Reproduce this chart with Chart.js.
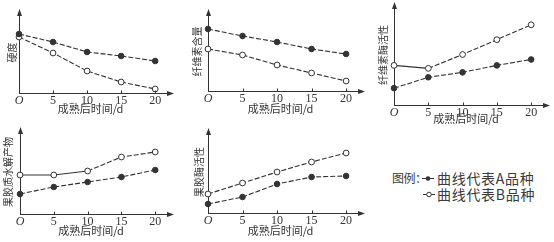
<!DOCTYPE html>
<html>
<head>
<meta charset="utf-8">
<script src="https://cdn.jsdelivr.net/npm/chart.js@4/dist/chart.umd.min.js"></script>
<style>
  body { margin: 0; background: #fff; width: 554px; height: 242px; position: relative; overflow: hidden;
         font-family: "Noto Sans CJK SC", sans-serif; color: #3a3a3a; }
  .box { position: absolute; }
  .lg { position: absolute; font-size: 14px; line-height: 16px; letter-spacing: 0.7px; white-space: nowrap; }
  .lg.head { font-size: 12px; letter-spacing: -0.5px; }
  .sym { position: absolute; width: 12px; height: 16px; }
</style>
</head>
<body>
<div class="box" style="left:0;top:0;width:180px;height:115px"><canvas id="c1"></canvas></div>
<div class="box" style="left:185px;top:0;width:180px;height:115px"><canvas id="c2"></canvas></div>
<div class="box" style="left:370px;top:0;width:184px;height:125px"><canvas id="c3"></canvas></div>
<div class="box" style="left:0;top:120px;width:180px;height:117px"><canvas id="c4"></canvas></div>
<div class="box" style="left:185px;top:120px;width:180px;height:117px"><canvas id="c5"></canvas></div>

<div class="lg head" style="left:392px;top:170px">图例：</div>
<svg class="sym" style="left:422px;top:170px"><line x1="0" y1="8.5" x2="12" y2="8.5" stroke="#333"/><circle cx="6" cy="8.5" r="2.3" fill="#333"/></svg>
<div class="lg" style="left:437px;top:170px">曲线代表A品种</div>
<svg class="sym" style="left:423px;top:186px"><line x1="0" y1="8.5" x2="12" y2="8.5" stroke="#333"/><circle cx="6" cy="8.5" r="2.3" fill="#fff" stroke="#333"/></svg>
<div class="lg" style="left:437px;top:186px">曲线代表B品种</div>

<script>
// data (relative units, no y ticks in the original)
var days = [0, 5, 10, 15, 20];
var xTitle = '成熟后时间/d';

var hardnessA = [59, 51, 41, 37, 32];
var hardnessB = [56, 40, 22, 11, 4];

var celluloseA = [62, 55, 49, 42, 37];
var celluloseB = [42, 36, 26, 18, 10];

var cellulaseA = [17, 28, 33, 40, 46];
var cellulaseB = [40, 37, 51, 66, 81];

var pectinProdA = [20, 27, 32, 37, 44];
var pectinProdB = [39, 39, 43, 57, 62];

var pectinaseA = [9, 16, 29, 36, 37];
var pectinaseB = [19, 30, 41, 51, 60];

var ink = '#333';

var panels = [
    { id: 'c1', yTitle: '硬度', a: hardnessA, b: hardnessB, yMax: 81, axisW: 19, axisH: 22, padTop: 12, padRight: 18, titleOff: 12, solidB: [] },
    { id: 'c2', yTitle: '纤维素含量', a: celluloseA, b: celluloseB, yMax: 79, axisW: 23, axisH: 24, padTop: 12, padRight: 12, titleOff: 12, solidB: [] },
    { id: 'c3', yTitle: '纤维素酶活性', a: cellulaseA, b: cellulaseB, yMax: 101, axisW: 24, axisH: 20, padTop: 4, padRight: 16, titleOff: 13, solidB: [0] },
    { id: 'c4', yTitle: '果胶质水解产物', a: pectinProdA, b: pectinProdB, yMax: 84, axisW: 20, axisH: 23, padTop: 10, padRight: 18, titleOff: 8, solidB: [0, 1] },
    { id: 'c5', yTitle: '果胶酶活性', a: pectinaseA, b: pectinaseB, yMax: 82, axisW: 23, axisH: 24, padTop: 11, padRight: 12, titleOff: 14, solidB: [] }
];

// arrowheads on both axes and the little ticks on the x axis
var axisArrows = {
    id: 'axisArrows',
    afterDraw: function(chart) {
        var ctx = chart.ctx, a = chart.chartArea, xs = chart.scales.x;
        var yb = Math.round(a.bottom) + 0.5, xl = Math.round(a.left) + 0.5;
        ctx.save();
        ctx.strokeStyle = ink;
        ctx.fillStyle = ink;
        ctx.lineWidth = 1;
        ctx.beginPath();
        ctx.moveTo(a.right, yb);
        ctx.lineTo(a.right + 8, yb);
        days.forEach(function(d) {
            if (d > 0) {
                var px = Math.round(xs.getPixelForValue(d)) + 0.5;
                ctx.moveTo(px, yb);
                ctx.lineTo(px, yb - 3);
            }
        });
        ctx.stroke();
        ctx.beginPath();
        ctx.moveTo(a.right + 12, yb);
        ctx.lineTo(a.right + 5, yb - 2.5);
        ctx.lineTo(a.right + 5, yb + 2.5);
        ctx.closePath();
        ctx.fill();
        ctx.beginPath();
        ctx.moveTo(xl, a.top - 3);
        ctx.lineTo(xl - 2.5, a.top + 4);
        ctx.lineTo(xl + 2.5, a.top + 4);
        ctx.closePath();
        ctx.fill();
        ctx.restore();
    }
};

function makeChart(p) {
    var ctx = document.getElementById(p.id).getContext('2d');
    return new Chart(ctx, {
        type: 'line',
        data: {
            labels: days,
            datasets: [{
                label: 'A',
                data: days.map(function(d, i) { return { x: d, y: p.a[i] }; }),
                borderColor: ink,
                borderWidth: 1.1,
                borderDash: [5, 2],
                pointRadius: 2.8,
                pointBackgroundColor: ink,
                pointBorderColor: ink,
                pointBorderWidth: 1,
                clip: false
            }, {
                label: 'B',
                data: days.map(function(d, i) { return { x: d, y: p.b[i] }; }),
                borderColor: ink,
                borderWidth: 1.1,
                borderDash: [5, 2],
                segment: {
                    borderDash: function(c) { return p.solidB.indexOf(c.p0DataIndex) >= 0 ? [] : [5, 2]; }
                },
                pointRadius: 2.9,
                pointBackgroundColor: '#fff',
                pointBorderColor: ink,
                pointBorderWidth: 1,
                clip: false
            }]
        },
        options: {
            responsive: true,
            maintainAspectRatio: false,
            animation: false,
            layout: { padding: { left: 0, top: p.padTop, right: p.padRight, bottom: 0 } },
            plugins: { legend: { display: false }, tooltip: { enabled: false } },
            scales: {
                x: {
                    type: 'linear',
                    min: 0,
                    max: 21,
                    grid: { display: false, drawTicks: false },
                    border: { display: true, color: ink, width: 1 },
                    ticks: {
                        stepSize: 5,
                        includeBounds: false,
                        maxRotation: 0,
                        padding: 1,
                        color: '#333',
                        font: function(c) {
                            return { family: '"Liberation Serif", serif', size: 12, style: (c.tick && c.tick.value === 0) ? 'italic' : 'normal' };
                        },
                        callback: function(v) { return v === 0 ? 'O' : (v % 5 === 0 ? String(v) : ''); }
                    },
                    title: {
                        display: true,
                        text: xTitle,
                        color: '#333',
                        padding: { top: 0, bottom: 0 },
                        font: { family: '"Noto Sans CJK SC", sans-serif', size: 11 }
                    },
                    afterFit: function(s) { s.height = p.axisH; }
                },
                y: {
                    min: 0,
                    max: p.yMax,
                    grid: { display: false, drawTicks: false },
                    border: { display: true, color: ink, width: 1 },
                    ticks: { display: false },
                    title: {
                        display: true,
                        text: p.yTitle,
                        color: '#333',
                        padding: { top: p.titleOff - 6, bottom: 0 },
                        font: { family: '"Noto Sans CJK SC", sans-serif', size: 10 }
                    },
                    afterFit: function(s) { s.width = p.axisW; }
                }
            }
        },
        plugins: [axisArrows]
    });
}

panels.forEach(makeChart);
</script>
</body>
</html>
